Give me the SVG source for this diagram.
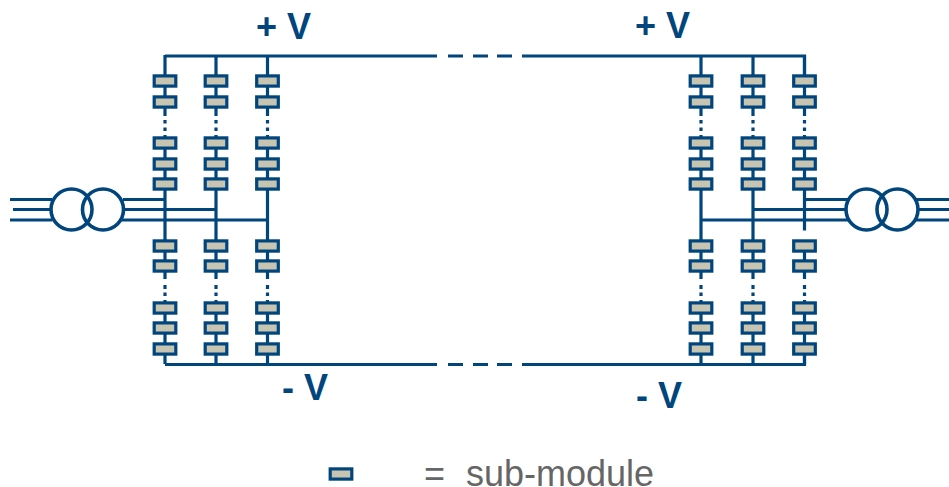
<svg xmlns="http://www.w3.org/2000/svg" width="949" height="487" viewBox="0 0 949 487">
<style>
.w{fill:none;stroke:#00457c;stroke-width:3.200}
.t{fill:none;stroke:#00457c;stroke-width:3.600}
.sm{fill:#c8c4b2;stroke:#00457c;stroke-width:3.200}
.v{font-family:"Liberation Sans",Arial,sans-serif;font-weight:700;font-size:36px;fill:#00457c}
.l{font-family:"Liberation Sans",Arial,sans-serif;font-size:36px;fill:#666}
</style>
<defs>
<rect id="sm" class="sm" x="-10.800" y="-5.100" width="21.600" height="10.200"/>
<path id="col" class="w" d="M0 55V116M0 120V123.500M0 127.500V131M0 135V279M0 285V289M0 292.500V296M0 300V364"/>
</defs>
<rect width="949" height="487" fill="#fff"/>
<g id="connectors">
<path class="w" d="M165 56H437M448 56H463M473 56H488M497 56H512M522 56H804.500V81"/>
<path class="w" d="M165 364.500H437M448 364.500H463M473 364.500H488M497 364.500H512M522 364.500H804.500V349"/>
<use href="#col" x="165"/><use href="#col" x="216"/><use href="#col" x="267.500"/>
<use href="#col" x="701"/><use href="#col" x="753"/>
<path class="w" d="M804.500 55V116M804.500 120V123.500M804.500 127.500V131M804.500 135V230.500M804.500 246V279M804.500 285V289M804.500 292.500V296M804.500 300V364"/>
<path class="w" d="M10 199.500H52M13 209.500H52M10 220H52"/>
<path class="w" d="M123 199.500H166M124 209.500H216M122 220H267.500"/>
<path class="w" d="M701 220H848M753 209.500H846M804.500 199.500H848"/>
<path class="w" d="M916 199.500H949M918 209.500H949M916 220H949"/>
</g>
<g id="transformer-left"><circle class="t" cx="71.500" cy="209.500" r="20.500"/><circle class="t" cx="103" cy="209.500" r="20.500"/></g>
<g id="transformer-right"><circle class="t" cx="866.500" cy="209.500" r="20.500"/><circle class="t" cx="897.500" cy="209.500" r="20.500"/></g>
<g id="col-l1"><use href="#sm" x="165" y="81"/><use href="#sm" x="165" y="102"/><use href="#sm" x="165" y="143"/><use href="#sm" x="165" y="164"/><use href="#sm" x="165" y="184"/><use href="#sm" x="165" y="246"/><use href="#sm" x="165" y="266"/><use href="#sm" x="165" y="308"/><use href="#sm" x="165" y="328"/><use href="#sm" x="165" y="349"/></g>
<g id="col-l2"><use href="#sm" x="216" y="81"/><use href="#sm" x="216" y="102"/><use href="#sm" x="216" y="143"/><use href="#sm" x="216" y="164"/><use href="#sm" x="216" y="184"/><use href="#sm" x="216" y="246"/><use href="#sm" x="216" y="266"/><use href="#sm" x="216" y="308"/><use href="#sm" x="216" y="328"/><use href="#sm" x="216" y="349"/></g>
<g id="col-l3"><use href="#sm" x="267.500" y="81"/><use href="#sm" x="267.500" y="102"/><use href="#sm" x="267.500" y="143"/><use href="#sm" x="267.500" y="164"/><use href="#sm" x="267.500" y="184"/><use href="#sm" x="267.500" y="246"/><use href="#sm" x="267.500" y="266"/><use href="#sm" x="267.500" y="308"/><use href="#sm" x="267.500" y="328"/><use href="#sm" x="267.500" y="349"/></g>
<g id="col-r1"><use href="#sm" x="701" y="81"/><use href="#sm" x="701" y="102"/><use href="#sm" x="701" y="143"/><use href="#sm" x="701" y="164"/><use href="#sm" x="701" y="184"/><use href="#sm" x="701" y="246"/><use href="#sm" x="701" y="266"/><use href="#sm" x="701" y="308"/><use href="#sm" x="701" y="328"/><use href="#sm" x="701" y="349"/></g>
<g id="col-r2"><use href="#sm" x="753" y="81"/><use href="#sm" x="753" y="102"/><use href="#sm" x="753" y="143"/><use href="#sm" x="753" y="164"/><use href="#sm" x="753" y="184"/><use href="#sm" x="753" y="246"/><use href="#sm" x="753" y="266"/><use href="#sm" x="753" y="308"/><use href="#sm" x="753" y="328"/><use href="#sm" x="753" y="349"/></g>
<g id="col-r3"><use href="#sm" x="804.500" y="81"/><use href="#sm" x="804.500" y="102"/><use href="#sm" x="804.500" y="143"/><use href="#sm" x="804.500" y="164"/><use href="#sm" x="804.500" y="184"/><use href="#sm" x="804.500" y="246"/><use href="#sm" x="804.500" y="266"/><use href="#sm" x="804.500" y="308"/><use href="#sm" x="804.500" y="328"/><use href="#sm" x="804.500" y="349"/></g>
<g id="labels">
<text class="v" x="256" y="39">+ V</text>
<text class="v" x="635" y="38">+ V</text>
<text class="v" x="282" y="400">- V</text>
<text class="v" x="636" y="408">- V</text>
</g>
<g id="legend">
<use href="#sm" x="341" y="474"/>
<text class="l" x="424" y="485.500">=</text>
<text class="l" x="466" y="485.500">sub-module</text>
</g>
</svg>
